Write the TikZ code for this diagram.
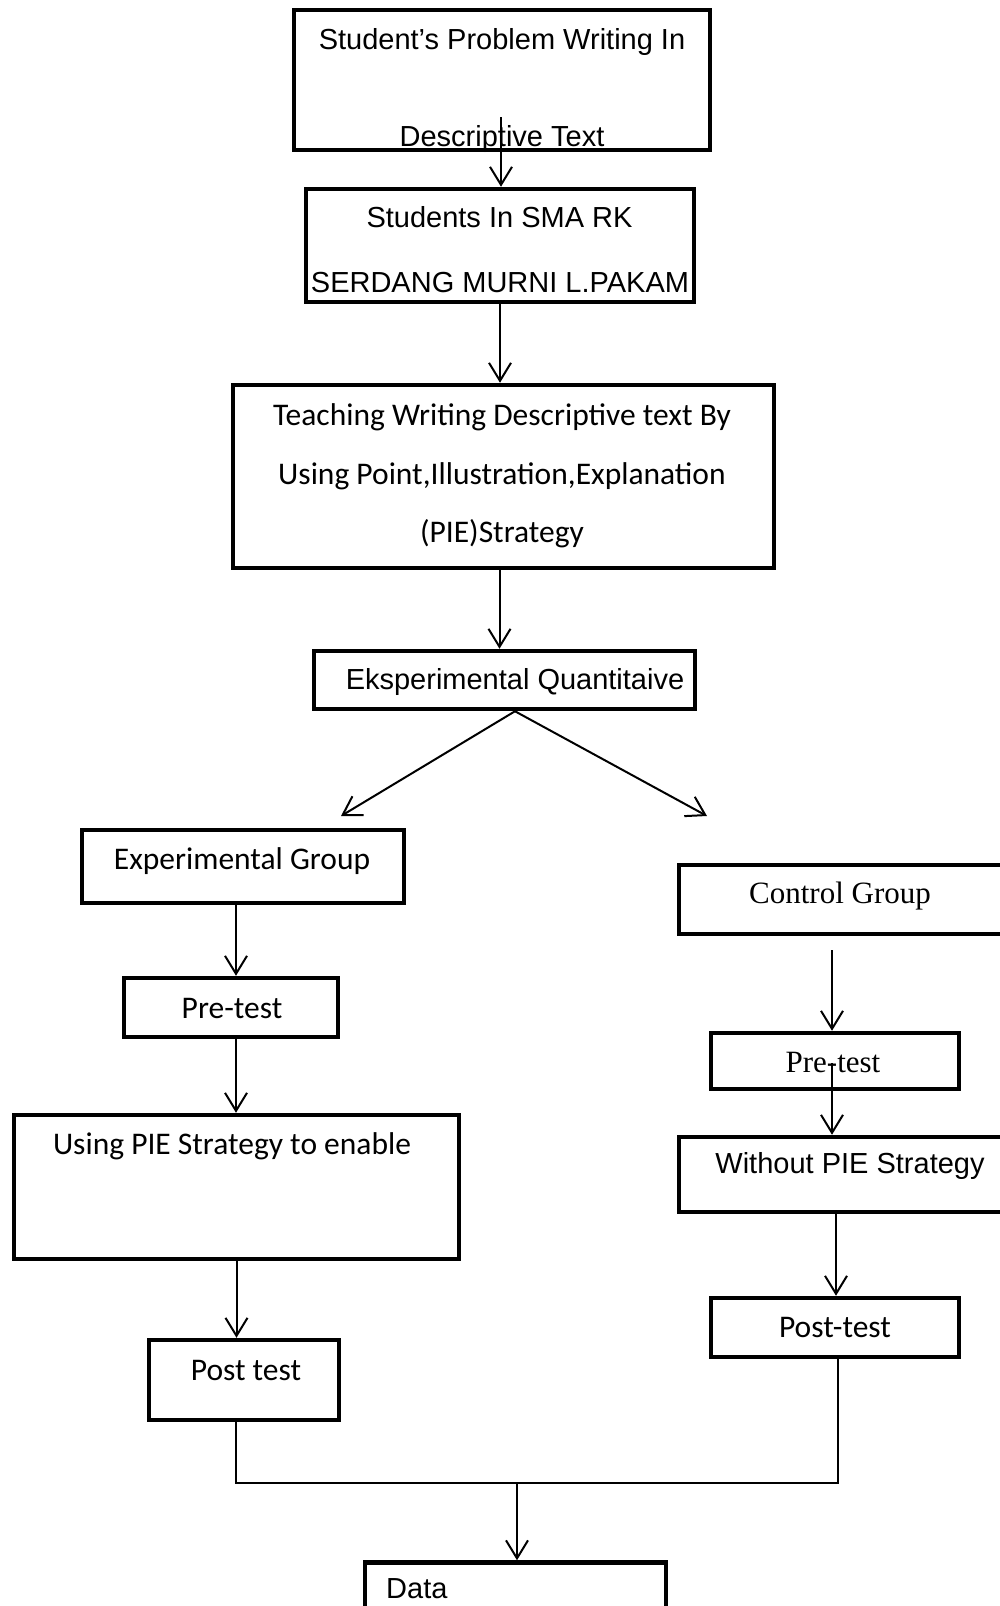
\documentclass[tikz,border=0pt]{standalone}
\usepackage{fontspec}
\newfontfamily\arialf{Liberation Sans}
\newfontfamily\calibrif{Carlito}
\newfontfamily\timesf{Liberation Serif}
\usetikzlibrary{arrows.meta}

\tikzset{
  box/.style={draw, line width=4.5pt, inner sep=0pt},
  arr/.style={-{Straight Barb[length=18pt,width=22pt,line width=2pt]}, line width=2pt},
  ln/.style={line width=2pt},
  txta/.style={font=\arialf\fontsize{29}{35}\selectfont, anchor=base, inner sep=0pt},
  txtc/.style={font=\calibrif\fontsize{31.5}{37}\selectfont, anchor=base, inner sep=0pt},
  txtt/.style={font=\timesf\fontsize{31}{37}\selectfont, anchor=base, inner sep=0pt},
}

\begin{document}
\begin{tikzpicture}[x=1pt,y=-1pt]
		\useasboundingbox (0,0) rectangle (999,1606);
		% boxes
		\node[box, minimum width=416pt, minimum height=140pt] (prob) at (502,80) {};
		\node[box, minimum width=388pt, minimum height=113pt] (school) at (500,245.5) {};
		\node[box, minimum width=541pt, minimum height=183pt] (teach) at (503.5,476.5) {};
		\node[box, minimum width=381pt, minimum height=58pt] (quant) at (504.5,680) {};
		\node[box, minimum width=322pt, minimum height=73pt] (expg) at (243,866.5) {};
		\node[box, minimum width=336pt, minimum height=69pt] (ctrl) at (847,899.5) {};
		\node[box, minimum width=214pt, minimum height=59pt] (preL) at (231,1007.5) {};
		\node[box, minimum width=248pt, minimum height=56pt] (preR) at (835,1061) {};
		\node[box, minimum width=445pt, minimum height=144pt] (using) at (236.5,1187) {};
		\node[box, minimum width=329pt, minimum height=75pt] (without) at (843.5,1174.5) {};
		\node[box, minimum width=190pt, minimum height=80pt] (postL) at (244,1380) {};
		\node[box, minimum width=248pt, minimum height=59pt] (postR) at (835,1327.5) {};
		\node[box, minimum width=301pt, minimum height=77pt] (data) at (515.5,1601) {};
		%
		% texts
		\node[txta] (probA) at (502,49) {Student’s Problem Writing In};
		\node[txta] (probB) at (502,146) {Descriptive Text};
		\node[txta] (schoolA) at (499.5,227) {Students In SMA RK};
		\node[txta] (schoolB) at (500,292) {SERDANG MURNI L.PAKAM};
		\node[txtc] (teachA) at (502,425) {Teaching Writing Descriptive text By};
		\node[txtc] (teachB) at (502,484) {Using Point,Illustration,Explanation};
		\node[txtc] (teachC) at (502,542) {(PIE)Strategy};
		\node[txta] (quantT) at (515,689) {Eksperimental Quantitaive};
		\node[txtc] (expgT) at (242,869) {Experimental Group};
		\node[txtt] (ctrlT) at (840,903) {Control Group};
		\node[txtc] (preLT) at (232,1018) {Pre-test};
		\node[txtt] (preRT) at (833,1072) {Pre-test};
		\node[txtc] (usingT) at (232,1154) {Using PIE Strategy to enable};
		\node[txta] (withoutT) at (850,1173) {Without PIE Strategy};
		\node[txtc] (postLT) at (246,1380) {Post test};
		\node[txtc] (postRT) at (835,1337) {Post-test};
		\node[txta, anchor=base west] (dataT) at (386,1598) {Data};
		%
		% free ends
		\coordinate (ts) at (501,117);
		\coordinate (tq) at ([xshift=-4pt]teach.south);
		\coordinate (dl) at (341,816);
		\coordinate (dr) at (707,816);
		\coordinate (cs) at (832,950);
		\coordinate (ps) at (832,1063);
		\coordinate (ws) at (836,1210);
		\coordinate (lj) at ([xshift=-8pt]postL.south);
		\coordinate (rj) at ([xshift=3pt]postR.south);
		\coordinate (mj) at (517,1483);
		%
		\draw[arr] (ts) -- (ts |- school.north);
		\draw[arr] (school.south) -- (school.south |- teach.north);
		\draw[arr] (tq) -- (tq |- quant.north);
		\draw[arr] ([xshift=10.5pt]quant.south) -- (dl);
		\draw[arr] ([xshift=10.5pt]quant.south) -- (dr);
		\draw[arr] ([xshift=-7pt]expg.south) -- ([xshift=-7pt]expg.south |- preL.north);
		\draw[arr] ([xshift=5pt]preL.south) -- ([xshift=5pt]preL.south |- using.north);
		\draw[arr] (using.south) -- (using.south |- postL.north);
		\draw[arr] (cs) -- (cs |- preR.north);
		\draw[arr] (ps) -- (ps |- without.north);
		\draw[arr] (ws) -- (ws |- postR.north);
		\draw[ln] (lj) |- (mj) -| (rj);
		\draw[arr] (mj) -- (mj |- data.north);
\end{tikzpicture}
\end{document}
